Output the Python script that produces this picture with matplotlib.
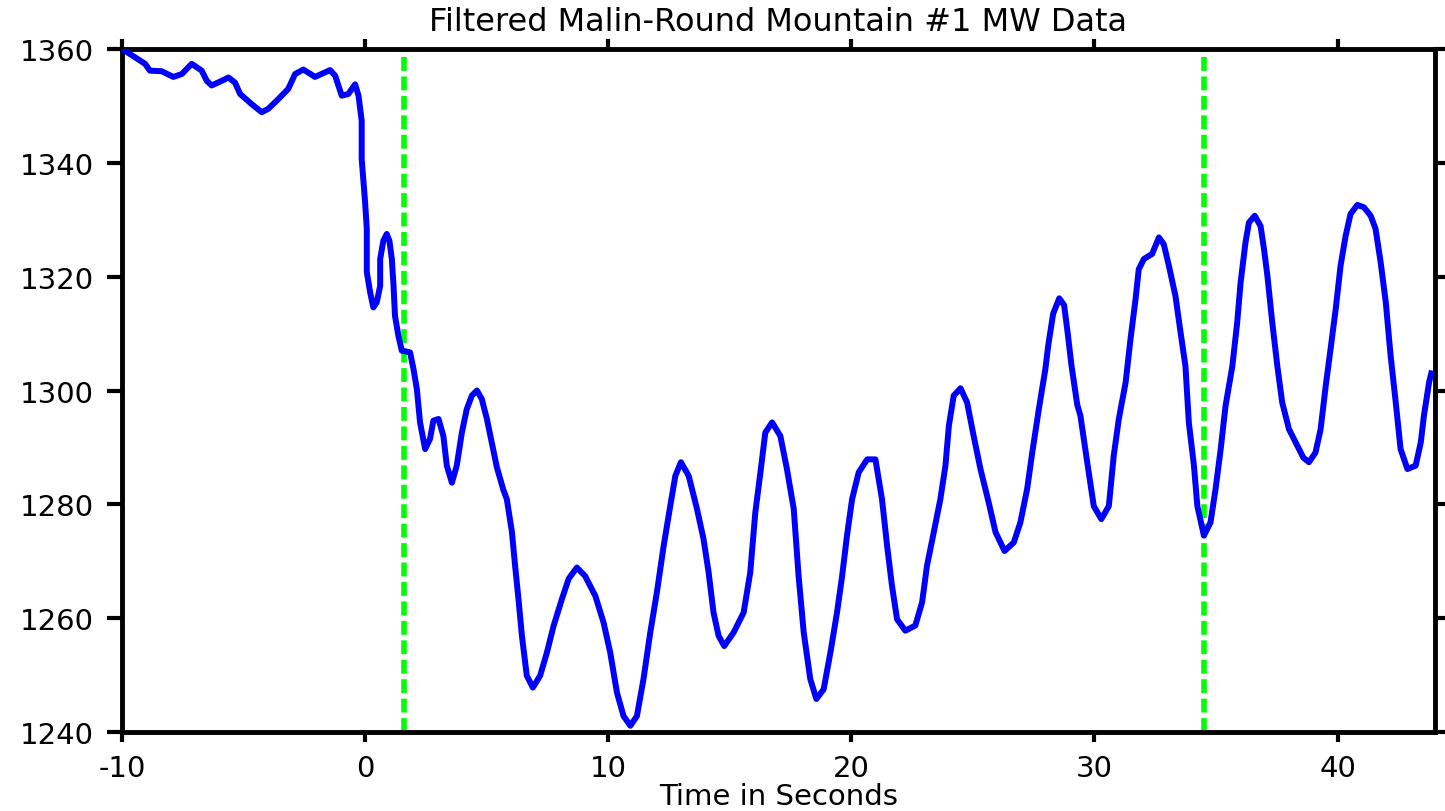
import numpy as np
import matplotlib
matplotlib.use('Agg')
import matplotlib.pyplot as plt

time_s = [
    -10.0, -9.88, -9.05, -8.85, -8.37, -7.89, -7.54, -7.13, -6.72, -6.51, -6.31,
    -5.90, -5.62, -5.35, -5.14, -4.66, -4.25, -3.98, -3.57, -3.16, -2.88, -2.54,
    -2.06, -1.44, -1.23, -0.96, -0.69, -0.41, -0.27, -0.14, -0.14, 0.0, 0.07,
    0.07, 0.21, 0.34, 0.48, 0.62, 0.62, 0.75, 0.89, 1.0, 1.10, 1.17, 1.23, 1.37,
    1.51, 1.85, 1.99, 2.13, 2.26, 2.47, 2.67, 2.81, 3.02, 3.22, 3.36, 3.57, 3.77,
    3.98, 4.18, 4.39, 4.60, 4.80, 5.01, 5.21, 5.42, 5.69, 5.83, 6.04, 6.17, 6.31,
    6.45, 6.65, 6.90, 7.20, 7.48, 7.75, 8.09, 8.37, 8.71, 9.05, 9.47, 9.81,
    10.08, 10.36, 10.63, 10.91, 11.18, 11.45, 11.73, 12.0, 12.28, 12.55, 12.76,
    12.99, 13.31, 13.65, 13.92, 14.13, 14.33, 14.54, 14.77, 15.16, 15.57, 15.84,
    16.05, 16.26, 16.46, 16.74, 17.08, 17.35, 17.63, 17.83, 18.04, 18.31, 18.56,
    18.86, 19.14, 19.41, 19.62, 19.82, 20.03, 20.30, 20.65, 20.99, 21.26, 21.47,
    21.67, 21.88, 22.22, 22.63, 22.91, 23.11, 23.39, 23.66, 23.87, 24.01, 24.21,
    24.49, 24.76, 25.03, 25.31, 25.65, 25.93, 26.30, 26.68, 26.95, 27.23, 27.44,
    27.71, 27.98, 28.10, 28.30, 28.55, 28.75, 28.90, 29.05, 29.29, 29.42, 29.70,
    29.97, 30.28, 30.59, 30.79, 31.0, 31.28, 31.48, 31.69, 31.82, 32.03, 32.37,
    32.65, 32.85, 33.06, 33.33, 33.54, 33.74, 33.88, 34.09, 34.23, 34.50, 34.77,
    34.98, 35.19, 35.39, 35.67, 35.87, 36.01, 36.21, 36.35, 36.59, 36.83, 36.97,
    37.11, 37.31, 37.52, 37.72, 38.0, 38.34, 38.59, 38.82, 39.09, 39.30, 39.51,
    39.71, 39.92, 40.12, 40.33, 40.53, 40.81, 41.08, 41.36, 41.56, 41.77, 41.98,
    42.18, 42.39, 42.59, 42.87, 43.21, 43.42, 43.55, 43.76, 43.85,
]
mw = [
    1360.0, 1359.7, 1357.4, 1356.2, 1356.1, 1355.1, 1355.6, 1357.4, 1356.2, 1354.4, 1353.6,
    1354.4, 1355.0, 1354.1, 1352.1, 1350.3, 1348.9, 1349.5, 1351.2, 1353.0, 1355.6, 1356.4,
    1355.1, 1356.3, 1355.3, 1351.8, 1352.1, 1353.8, 1351.8, 1347.4, 1340.7, 1333.1, 1328.4,
    1320.8, 1317.2, 1314.6, 1315.5, 1318.4, 1323.1, 1326.3, 1327.5, 1326.3, 1323.1, 1318.4, 1313.1, 1309.6,
    1307.0, 1306.7, 1303.8, 1300.2, 1294.4, 1289.7, 1291.5, 1294.7, 1295.0, 1292.0, 1286.8, 1283.8, 1286.8,
    1292.6, 1296.7, 1299.1, 1300.0, 1298.5, 1295.0, 1290.9, 1286.5, 1282.5, 1280.9, 1275.1, 1269.2, 1263.3,
    1256.9, 1249.9, 1247.8, 1249.9, 1254.0, 1258.6, 1263.3, 1266.9, 1268.9, 1267.4, 1263.9, 1259.2,
    1254.0, 1246.9, 1242.8, 1241.1, 1242.8, 1249.3, 1257.5, 1264.5, 1272.7, 1279.7, 1285.0,
    1287.4, 1285.0, 1279.2, 1273.9, 1268.0, 1261.0, 1256.9, 1255.1, 1257.5, 1261.0, 1268.0,
    1278.6, 1285.6, 1292.6, 1294.4, 1292.0, 1286.2, 1279.2, 1267.4, 1257.5, 1249.3, 1245.8,
    1247.5, 1254.0, 1261.0, 1267.4, 1274.5, 1280.9, 1285.6, 1287.9, 1287.9, 1280.9, 1272.7,
    1265.7, 1259.8, 1257.8, 1258.7, 1262.8, 1269.2, 1275.1, 1280.9, 1286.8, 1293.8, 1299.1,
    1300.4, 1297.9, 1292.0, 1286.2, 1280.3, 1275.1, 1271.8, 1273.3, 1276.8, 1282.7, 1289.1,
    1296.7, 1303.8, 1308.0, 1313.5, 1316.2, 1315.0, 1310.0, 1304.5, 1297.5, 1295.6, 1287.4,
    1279.7, 1277.4, 1279.7, 1288.5, 1295.0, 1301.4, 1309.0, 1316.1, 1321.3, 1323.1, 1324.0,
    1326.9, 1325.7, 1321.9, 1316.6, 1310.2, 1304.3, 1294.4, 1286.8, 1279.7, 1274.5, 1276.8,
    1282.7, 1289.7, 1297.3, 1304.3, 1312.0, 1319.0, 1326.0, 1329.5, 1330.7, 1328.9, 1324.9,
    1320.2, 1312.0, 1304.3, 1297.9, 1293.2, 1290.3, 1288.2, 1287.4, 1289.1, 1293.2, 1300.8,
    1307.3, 1314.3, 1321.9, 1327.2, 1331.0, 1332.6, 1332.2, 1330.7, 1328.4, 1322.5, 1315.5,
    1306.1, 1297.9, 1289.7, 1286.2, 1286.8, 1290.9, 1295.6, 1301.4, 1303.0,
]

# event markers (seconds)
event_times = [1.6, 34.5]

x_ticks = [-10, 0, 10, 20, 30, 40]
y_ticks = [1240, 1260, 1280, 1300, 1320, 1340, 1360]

plt.rcParams['font.family'] = ['DejaVu Sans']
plt.rcParams['axes.unicode_minus'] = False

fig = plt.figure(figsize=(14.45, 8.12), dpi=100)
ax = fig.add_axes([0.0844, 0.0973, 0.9086, 0.8411])

ax.plot(time_s, mw, color='#0000FF', lw=4.3, solid_joinstyle='round', zorder=3)
for t in event_times:
    ax.axvline(t, color='#00FF00', lw=4.0, dashes=(2.5, 1.0), zorder=2)

ax.set_xlim(-10, 44)
ax.set_ylim(1240, 1360)
ax.set_xticks(x_ticks)
ax.set_yticks(y_ticks)

for s in ax.spines.values():
    s.set_linewidth(3.5)

ax.tick_params(direction='out', width=3, labelsize=21, top=True, right=True,
               labeltop=False, labelright=False)
ax.xaxis.set_tick_params(length=7, pad=9)
ax.yaxis.set_tick_params(length=11, pad=9)

ax.set_title('Filtered Malin-Round Mountain #1 MW Data', fontsize=23, pad=14)
ax.set_xlabel('Time in Seconds', fontsize=21, labelpad=0)

fig.savefig('out.png', dpi=100)
